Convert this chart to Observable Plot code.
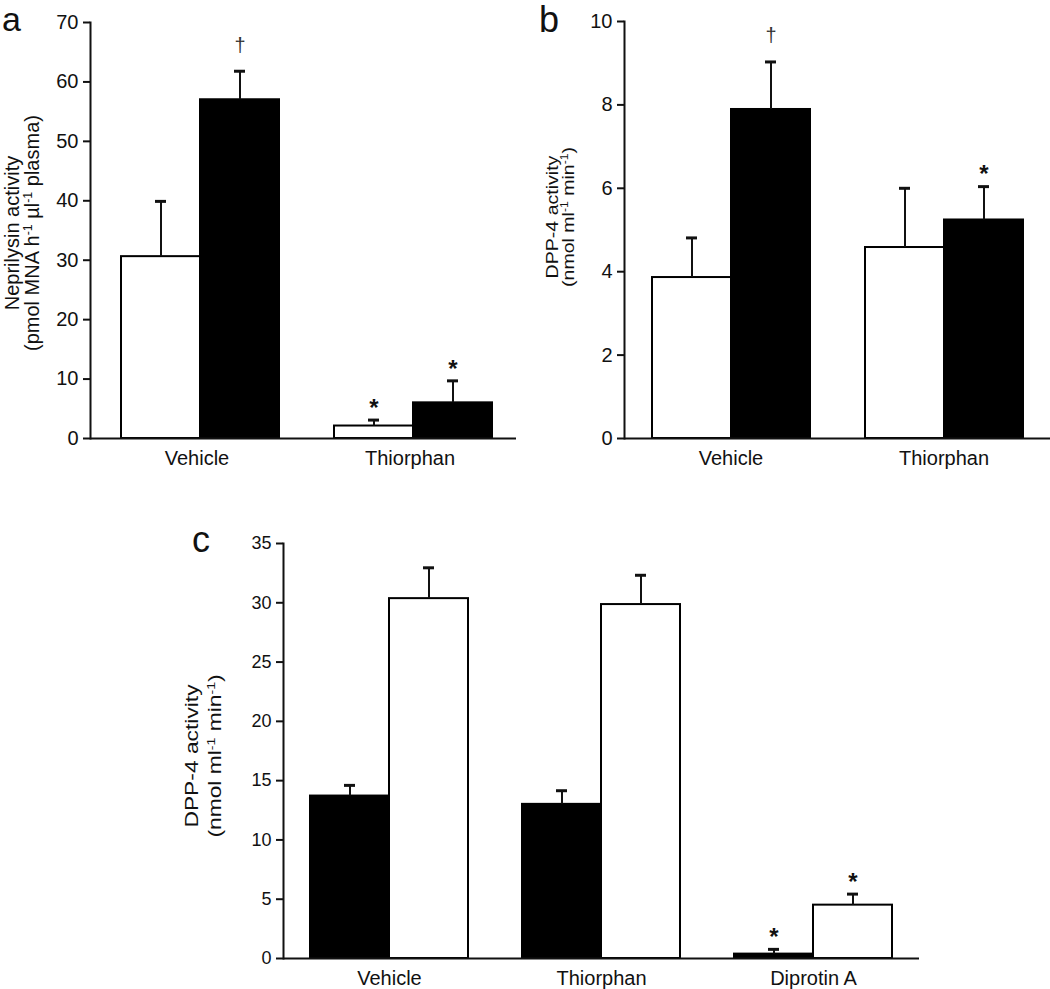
<!DOCTYPE html>
<html>
<head>
<meta charset="utf-8">
<script src="https://cdn.jsdelivr.net/npm/d3@7"></script>
<script src="https://cdn.jsdelivr.net/npm/@observablehq/plot@0.6"></script>
<style>
  body { margin: 0; background: #fff; }
  #wrap { position: relative; width: 1050px; height: 989px; overflow: hidden;
          font-family: "Liberation Sans", Arial, sans-serif; color: #111; }
  .panel { position: absolute; }
  .letter { position: absolute; font-size: 36px; line-height: 36px; }
  .ylab { position: absolute; display: flex; flex-direction: column; align-items: center;
          justify-content: center; text-align: center; white-space: nowrap; }
  .ylab sup { font-size: 0.62em; vertical-align: 0.55em; line-height: 0; }
</style>
</head>
<body>
<div id="wrap"></div>
<script>
// ---------- data ----------
// Panel a: Neprilysin activity
const groupsA = ["Vehicle", "Thiorphan"];
const seriesA = ["open", "filled"];
const nepOpen = [30.6, 2.1];
const nepOpenErr = [9.3, 1.0];
const nepFilled = [57.0, 6.0];
const nepFilledErr = [4.8, 3.7];
const nepOpenMark = ["", "*"];
const nepFilledMark = ["†", "*"];
const ticksA = [0, 10, 20, 30, 40, 50, 60, 70];

// Panel b: DPP-4 activity
const groupsB = ["Vehicle", "Thiorphan"];
const seriesB = ["open", "filled"];
const dppOpen = [3.86, 4.58];
const dppOpenErr = [0.95, 1.42];
const dppFilled = [7.89, 5.24];
const dppFilledErr = [1.14, 0.80];
const dppOpenMark = ["", ""];
const dppFilledMark = ["†", "*"];
const ticksB = [0, 2, 4, 6, 8, 10];

// Panel c: DPP-4 activity
const groupsC = ["Vehicle", "Thiorphan", "Diprotin A"];
const seriesC = ["filled", "open"];
const cFilled = [13.7, 13.0, 0.37];
const cFilledErr = [0.9, 1.15, 0.4];
const cOpen = [30.35, 29.85, 4.5];
const cOpenErr = [2.6, 2.47, 0.93];
const cFilledMark = ["", "", "*"];
const cOpenMark = ["", "", "*"];
const ticksC = [0, 5, 10, 15, 20, 25, 30, 35];

// ---------- helpers ----------
function rowsFrom(groups, defs) {
  const rows = [];
  groups.forEach((g, i) => {
    defs.forEach(d => rows.push({group: g, series: d.series, value: d.values[i], err: d.errs[i], mark: d.marks[i]}));
  });
  return rows;
}

const FONT = "'Liberation Sans', Arial, sans-serif";

function panel({groups, series, rows, yDomain, ticks, width, height, mL, mR, mT, mB, align, tickFont}) {
  const up = d => d.value + d.err;
  return Plot.plot({
    width, height,
    marginLeft: mL, marginRight: mR, marginTop: mT, marginBottom: mB,
    style: {fontFamily: FONT, color: "#111", background: "transparent", overflow: "visible"},
    fx: {domain: groups, paddingInner: 0, paddingOuter: 0, label: null},
    x: {domain: series, paddingInner: 0, paddingOuter: 0.34, align, axis: null},
    y: {domain: yDomain, label: null},
    color: {domain: ["open", "filled"], range: ["white", "black"]},
    marks: [
      Plot.axisY({ticks, tickSize: 7, tickPadding: 5, fontSize: tickFont, label: null, strokeWidth: 2}),
      Plot.axisFx({anchor: "bottom", tickSize: 0, tickPadding: 12, fontSize: 20, label: null}),
      Plot.barY(rows, {fx: "group", x: "series", y: "value", fill: "series", stroke: "black", strokeWidth: 2}),
      Plot.ruleX(rows, {fx: "group", x: "series", y1: "value", y2: up, strokeWidth: 2}),
      Plot.tickY(rows, {fx: "group", x: "series", y: up, insetLeft: 34, insetRight: 34, strokeWidth: 3}),
      Plot.text(rows.filter(d => d.mark === "*"), {fx: "group", x: "series", y: up, text: "mark",
        fontSize: 24, fontWeight: "bold", dy: -12}),
      Plot.text(rows.filter(d => d.mark === "†"), {fx: "group", x: "series", y: up, text: "mark",
        fontSize: 20, dy: -26, fill: "#333"}),
      Plot.ruleY([0], {strokeWidth: 2}),
      Plot.frame({anchor: "left", facetAnchor: "left", strokeWidth: 2})
    ]
  });
}

const wrap = document.getElementById("wrap");
function place(node, left, top) {
  node.classList.add("panel");
  node.style.left = left + "px";
  node.style.top = top + "px";
  wrap.appendChild(node);
}
function addHTML(html) { wrap.insertAdjacentHTML("beforeend", html); }

// Panel a
const rowsA = rowsFrom(groupsA, [
  {series: "open", values: nepOpen, errs: nepOpenErr, marks: nepOpenMark},
  {series: "filled", values: nepFilled, errs: nepFilledErr, marks: nepFilledMark}
]);
place(panel({groups: groupsA, series: seriesA, rows: rowsA, yDomain: [0, 70], ticks: ticksA,
  width: 518, height: 480, mL: 90, mR: 2, mT: 22, mB: 42, align: 0.57, tickFont: 20}), 0, 0);

// Panel b
const rowsB = rowsFrom(groupsB, [
  {series: "open", values: dppOpen, errs: dppOpenErr, marks: dppOpenMark},
  {series: "filled", values: dppFilled, errs: dppFilledErr, marks: dppFilledMark}
]);
place(panel({groups: groupsB, series: seriesB, rows: rowsB, yDomain: [0, 10], ticks: ticksB,
  width: 532, height: 480, mL: 105, mR: 0, mT: 21, mB: 42, align: 0.5, tickFont: 20}), 518, 0);

// Panel c
const rowsC = rowsFrom(groupsC, [
  {series: "filled", values: cFilled, errs: cFilledErr, marks: cFilledMark},
  {series: "open", values: cOpen, errs: cOpenErr, marks: cOpenMark}
]);
place(panel({groups: groupsC, series: seriesC, rows: rowsC, yDomain: [0, 35], ticks: ticksC,
  width: 1050, height: 469, mL: 282, mR: 130, mT: 23, mB: 31, align: 0.5, tickFont: 18}), 0, 520);

// Panel letters
addHTML(`<div class="letter" style="left:2px;top:0px;font-size:34px;line-height:38px">a</div>`);
addHTML(`<div class="letter" style="left:539px;top:2px">b</div>`);
addHTML(`<div class="letter" style="left:192px;top:522px">c</div>`);

// Y-axis titles
function ylab(cx, cy, w, fs, lh, sx, lines) {
  const h = lh * lines.length;
  addHTML(`<div class="ylab" style="left:${cx - w / 2}px;top:${cy - h / 2}px;width:${w}px;height:${h}px;font-size:${fs}px;line-height:${lh}px;transform:rotate(-90deg) scale(${sx},1)">${lines.map(l => `<div>${l}</div>`).join("")}</div>`);
}
ylab(22, 233, 300, 20, 20, 1, ["Neprilysin activity", "(pmol MNA h<sup>-1</sup> µl<sup>-1</sup> plasma)"]);
ylab(561, 217, 200, 17, 16, 1.15, ["DPP-4 activity", "(nmol ml<sup>-1</sup> min<sup>-1</sup>)"]);
ylab(203, 756, 200, 19, 23, 1.2, ["DPP-4 activity", "(nmol ml<sup>-1</sup> min<sup>-1</sup>)"]);
</script>
</body>
</html>
